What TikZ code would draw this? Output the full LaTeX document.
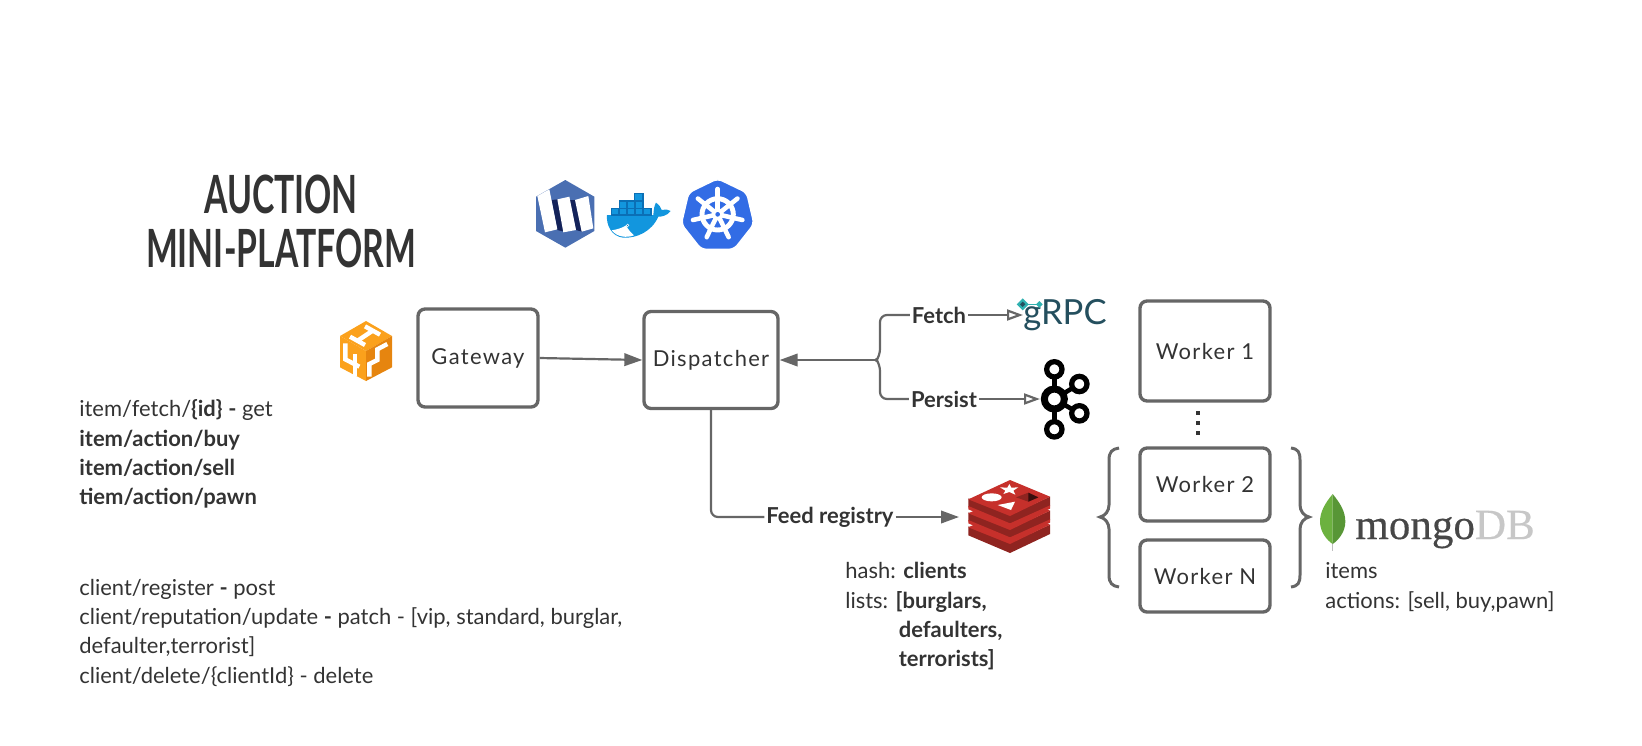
\documentclass[tikz,border=0pt]{standalone}
\usepackage{fontspec}
\setmainfont{Lato}
\newfontfamily\handfont[LetterSpace=6]{Lato}
\newfontfamily\titlefont[FakeStretch=0.64]{Lato}
\newfontfamily\logofont[FakeBold=0.4]{Liberation Serif}
\usetikzlibrary{arrows.meta}
\definecolor{inkdark}{HTML}{333333}
\definecolor{linegray}{HTML}{666666}
\definecolor{weaveblue}{HTML}{4A6FB2}
\definecolor{weavenavy}{HTML}{14235A}
\definecolor{dockerblue}{HTML}{1296DE}
\definecolor{dockerdark}{HTML}{0B6FB5}
\definecolor{kubeblue}{HTML}{326CE5}
\definecolor{cubelight}{HTML}{FBA11C}
\definecolor{cubedark}{HTML}{E6850F}
\definecolor{grpcink}{HTML}{244F5E}
\definecolor{grpcteal}{HTML}{2FB1B0}
\definecolor{redistop}{HTML}{C6302B}
\definecolor{redisside}{HTML}{8F2420}
\definecolor{leaflight}{HTML}{6CB13F}
\definecolor{leafdark}{HTML}{589636}
\tikzset{
    box/.style={draw=linegray, line width=1.9pt, rounded corners=0.14cm, text=inkdark, font=\handfont\fontsize{12.5}{15}\selectfont},
    note/.style={anchor=north west, align=left, inner sep=0pt, text=inkdark, font=\fontsize{12.5}{16.7}\selectfont},
    edgelabel/.style={fill=white, inner sep=1pt, text=inkdark, font=\bfseries\fontsize{12.5}{15}\selectfont},
    wire/.style={draw=linegray, line width=1.25pt, rounded corners=0.14cm},
    solidarrow/.style={wire, -{Triangle[length=0.36cm, width=0.25cm, fill=linegray]}},
    openarrow/.style={wire, -{Triangle[open, length=0.32cm, width=0.22cm, fill=white]}},
    bracket/.style={draw=linegray, line width=1.7pt},
    title/.style={text=inkdark, font=\titlefont\bfseries\fontsize{30}{36}\selectfont}
}
\begin{document}
\begin{tikzpicture}[x=0.02cm, y=-0.02cm]
    \useasboundingbox (0,0) rectangle (1642,745);

    \node[title] (auction) at (281,194) {AUCTION};
    \node[title] (platform) at (281,248) {MINI-PLATFORM};

    \node[box, minimum width=2.4cm, minimum height=1.96cm] (gateway) at (478,358) {Gateway};
    \node[box, minimum width=2.68cm, minimum height=1.94cm] (dispatcher) at (711,360) {Dispatcher};
    \node[box, minimum width=2.6cm, minimum height=2cm] (workerone) at (1205,351) {Worker 1};
    \node[box, minimum width=2.6cm, minimum height=1.46cm] (workertwo) at (1205,484.5) {Worker 2};
    \node[box, minimum width=2.6cm, minimum height=1.44cm] (workern) at (1205,576) {Worker N};

    \coordinate (fork) at (877,360);
    \node[edgelabel] (fetch) at (939,315) {Fetch};
    \node[edgelabel] (persist) at (944,399) {Persist};
    \node[edgelabel] (feed) at (830,517) {Feed registry};
    \node[anchor=west, inner sep=0pt, text=grpcink, font=\fontsize{19.7}{24}\selectfont] (grpc) at (1023,315) {gRPC};
    \coordinate (kafkain) at (1040,399);
    \coordinate (redisin) at (959,517);

    \draw[solidarrow] (gateway.east) -- (dispatcher.west);
    \draw[solidarrow] (fork) -- (dispatcher.east);
    \draw[wire] (fork) -- ++(3,-4) |- (fetch);
    \draw[wire] (fork) -- ++(3,4) |- (persist);
    \draw[openarrow] (fetch) -- (grpc);
    \draw[openarrow] (persist) -- (kafkain);
    \draw[wire] (dispatcher.south) |- (feed);
    \draw[solidarrow] (feed) -- (redisin);

    \foreach \y in {413,423,433}
        \fill[inkdark] (1196.2,\y-1.8) rectangle (1199.8,\y+1.8);
    \draw[bracket] (1119,448) .. controls (1112,449) and (1109,452) .. (1109,460) -- (1109,505) .. controls (1109,511) and (1105,516) .. (1100,517) .. controls (1105,518) and (1109,523) .. (1109,529) -- (1109,575) .. controls (1109,583) and (1112,586) .. (1119,587);
    \draw[bracket] (1291,448) .. controls (1298,449) and (1300,452) .. (1300,460) -- (1300,505) .. controls (1300,511) and (1304,516) .. (1309,517) .. controls (1304,518) and (1300,523) .. (1300,529) -- (1300,575) .. controls (1300,583) and (1298,586) .. (1291,587);

    \node[note] (itemapi) at (79,399.5) {item/fetch/\textbf{\{id\}} \textbf{-} get\\
        \textbf{item/action/buy}\\
        \textbf{item/action/sell}\\
        \textbf{tiem/action/pawn}};
    \node[note] (clientapi) at (79,578.5) {client/register \textbf{-} post\\
        client/reputation/update \textbf{-} patch - [vip, standard, burglar,\\
        defaulter,terrorist]\\
        client/delete/\{clientId\} - delete};
    \node[note] (redisnote) at (845,562) {hash: \textbf{clients}\\
        lists: \textbf{[burglars,}\\
        \hspace*{1.07cm}\textbf{defaulters,}\\
        \hspace*{1.07cm}\textbf{terrorists]}};
    \node[note] (mongonote) at (1325,562.5) {items\\
        actions: [sell, buy,pawn]};

    % weave
    \begin{scope}[shift={(480,150)}, scale=1/3]
        \fill[weaveblue] (256,90) -- (343,140) -- (343,243) -- (256,293) -- (168,243) -- (168,140) -- cycle;
        \fill[weavenavy] (215,150) -- (235,148) -- (252,245) -- (232,240) -- cycle;
        \fill[weavenavy] (268,150) -- (288,150) -- (306,245) -- (288,240) -- cycle;
        \fill[white] (172,138) -- (208,118) -- (232,238) -- (195,247) -- cycle;
        \fill[white] (232,148) -- (268,140) -- (288,240) -- (250,247) -- cycle;
        \fill[white] (285,150) -- (325,138) -- (340,235) -- (305,245) -- cycle;
    \end{scope}

    % docker
    \begin{scope}[shift={(480,150)}, scale=1/3]
        \fill[dockerblue] (381,195) -- (520,195) .. controls (521,178) and (523,166) .. (528,158) .. controls (538,165) and (543,172) .. (545,180) .. controls (555,177) and (565,178) .. (572,183) .. controls (560,198) and (545,200) .. (535,200) .. controls (515,245) and (470,265) .. (430,263) .. controls (395,260) and (378,225) .. cycle;
        \fill[white] (395,241) .. controls (415,238) and (430,232) .. (438,226) .. controls (445,240) and (455,250) .. (462,256) .. controls (440,264) and (412,262) .. cycle;
        \fill[white] (443,226) circle (5);
        \fill[dockerdark] (443,226) circle (2);
        \foreach \x in {394,418,442,466,490}
            \draw[fill=dockerblue, draw=dockerdark, line width=0.8pt] (\x,175) rectangle ++(23,20);
        \foreach \x in {418,442,466}
            \draw[fill=dockerblue, draw=dockerdark, line width=0.8pt] (\x,153) rectangle ++(23,22);
        \draw[fill=dockerblue, draw=dockerdark, line width=0.8pt] (464,131) rectangle ++(25,22);
    \end{scope}

    % kubernetes
    \begin{scope}[shift={(480,150)}, scale=1/3]
        \filldraw[fill=kubeblue, draw=white, line width=0.8pt, rounded corners=0.1cm] (713,86) -- (800,128) -- (822,222) -- (762,298) -- (664,298) -- (604,222) -- (626,128) -- cycle;
        \draw[white, line width=2.8pt] (713,193) circle (47);
        \foreach \a in {90,141.4,192.9,244.3,295.7,347.1,398.6}
            \draw[white, line width=2.6pt, line cap=round] (713,193) -- ++({76*cos(\a)},{-76*sin(\a)});
        \fill[white] (713,193) circle (18);
        \fill[kubeblue] (713,193) circle (7);
    \end{scope}

    % api cube
    \begin{scope}[shift={(300,280)}, scale=1/3]
        \fill[cubelight] (198,123) -- (276,168) -- (198,213) -- (120,168) -- cycle;
        \fill[cubelight] (120,168) -- (198,213) -- (198,303) -- (120,262) -- cycle;
        \fill[cubedark] (276,168) -- (198,213) -- (198,303) -- (276,262) -- cycle;
        \draw[white, line width=2.5pt] (195,139) -- (240,164);
        \draw[white, line width=2.5pt] (150,170) -- (195,195);
        \draw[white, line width=2.5pt] (218,152) -- (173,182);
        \draw[white, line width=2.5pt] (136,190) -- (136,238) -- (178,260);
        \draw[white, line width=2.5pt] (165,222) -- (165,288);
        \draw[white, line width=2.5pt] (262,192) -- (232,208) -- (232,240) -- (208,252) -- (208,290);
    \end{scope}

    % grpc mark
    \begin{scope}[shift={(1010,285)}, scale=1/3]
        \draw[grpcteal, line width=0.6pt] (38,58) -- (88,58);
        \fill[grpcteal] (38,40) -- (56,58) -- (38,76) -- (20,58) -- cycle;
        \fill[grpcink] (38,50) -- (46,58) -- (38,66) -- (30,58) -- cycle;
        \fill[grpcteal] (88,48) -- (98,58) -- (88,68) -- (78,58) -- cycle;
    \end{scope}

    % kafka
    \begin{scope}[shift={(1010,285)}, scale=1/3]
        \draw[black, line width=2.6pt] (133,253) -- (133,433);
        \draw[black, line width=2.6pt] (133,342) -- (208,297);
        \draw[black, line width=2.6pt] (133,342) -- (208,385);
        \draw[black, line width=4pt, fill=white] (133,342) circle (30);
        \foreach \x/\y in {133/253, 133/433, 208/297, 208/385}
            \draw[black, line width=3pt, fill=white] (\x,\y) circle (23);
    \end{scope}

    % redis
    \begin{scope}[shift={(950,470)}, scale=1/3]
        \foreach \d in {84,42,0} {
            \fill[redisside] (55,85+\d) -- (180,135+\d) -- (300,80+\d) -- (300,108+\d) -- (180,165+\d) -- (55,112+\d) -- cycle;
            \fill[redistop] (55,88+\d) -- (180,30+\d) -- (300,80+\d) -- (180,138+\d) -- cycle;
        }
        \fill[redistop] (55,108) -- (180,160) -- (300,106) -- (300,116) -- (180,172) -- (55,118) -- cycle;
        \fill[redistop] (55,150) -- (180,202) -- (300,148) -- (300,158) -- (180,214) -- (55,160) -- cycle;
        \fill[white] (178,42) -- (184,53) -- (205,52) -- (190,62) -- (196,74) -- (178,66) -- (160,72) -- (166,62) -- (150,52) -- (172,53) -- cycle;
        \fill[white] (125,82) ellipse (30 and 12);
        \fill[white] (143,105) -- (195,95) -- (183,120) -- cycle;
        \fill[redisside] (198,82) -- (235,68) -- (265,82) -- (235,95) -- cycle;
        \fill[black!60!redisside] (235,68) -- (265,82) -- (235,95) -- cycle;
    \end{scope}

    % mongo
    \begin{scope}[shift={(1300,480)}, scale=1/3]
        \fill[black!25] (96,185) rectangle (100,212);
        \fill[leaflight] (98,42) .. controls (75,70) and (60,95) .. (60,125) .. controls (60,155) and (80,180) .. (98,192) -- cycle;
        \fill[leafdark] (98,42) .. controls (121,70) and (136,95) .. (136,125) .. controls (136,155) and (116,180) .. (98,192) -- cycle;
    \end{scope}
    \node[anchor=base west, inner sep=0pt, font=\logofont\fontsize{24.5}{28}\selectfont] (mongo) at (1355,539) {\textcolor{black!72}{mongo}\textcolor{black!22}{DB}};
\end{tikzpicture}
\end{document}
